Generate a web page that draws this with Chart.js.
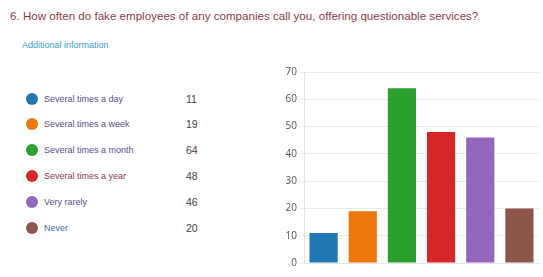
<!DOCTYPE html>
<html>
<head>
<meta charset="utf-8">
<script src="https://cdn.jsdelivr.net/npm/chart.js@4"></script>
<style>
  html, body { margin: 0; padding: 0; background: #fff; }
  body { width: 543px; height: 277px; position: relative; overflow: hidden; font-family: "Liberation Sans", Arial, sans-serif; }
  #title { position: absolute; left: 10px; top: 9px; font-size: 11.6px; color: #8a3b4b; white-space: nowrap; }
  #info { position: absolute; left: 22px; top: 40px; font-size: 9px; color: #3c9dc4; }
  .row { position: absolute; left: 26px; height: 14px; font-size: 9px; white-space: nowrap; }
  .dot { position: absolute; left: 0; top: 1px; width: 12px; height: 12px; border-radius: 50%; }
  .lab { position: absolute; left: 18px; top: 0; line-height: 14px; }
  .val { position: absolute; left: 160px; top: 0; line-height: 14px; color: #444; font-size: 10.5px; }
  #box { position: absolute; left: 270px; top: 63px; width: 273px; height: 209px; }
</style>
</head>
<body>
<div id="title">6. How often do fake employees of any companies call you, offering questionable services?</div>
<div id="info">Additional information</div>
<div id="legend"></div>
<div id="box"><canvas id="c"></canvas></div>
<script>
// answer options and counts as shown in the survey summary
const labels = ['Several times a day', 'Several times a week', 'Several times a month', 'Several times a year', 'Very rarely', 'Never'];
const counts = [11, 19, 64, 48, 46, 20];
const colours = ['#1f77b4', '#ee770c', '#2ca02c', '#d62728', '#9467bd', '#8c564b'];
const labelColours = ['#5b4c8c', '#5b4c8c', '#5b4c8c', '#8a3b4b', '#5b4c8c', '#4a6a9c'];
const yTicks = [0, 10, 20, 30, 40, 50, 60, 70];

// left-hand legend with counts
const legend = document.getElementById('legend');
labels.forEach((l, i) => {
  const row = document.createElement('div');
  row.className = 'row';
  row.style.top = (91.5 + i * 25.8) + 'px';
  row.innerHTML = `<span class="dot" style="background:${colours[i]}"></span>` +
    `<span class="lab" style="color:${labelColours[i]}">${l}</span>` +
    `<span class="val">${counts[i]}</span>`;
  legend.appendChild(row);
});

new Chart(document.getElementById('c'), {
  type: 'bar',
  data: {
    labels,
    datasets: [{ data: counts, backgroundColor: colours, borderWidth: 0 }],
  },
  options: {
    responsive: true,
    maintainAspectRatio: false,
    animation: false,
    layout: { padding: { top: 6, right: 4, bottom: 0, left: 0 } },
    plugins: { legend: { display: false }, tooltip: { enabled: false } },
    datasets: { bar: { categoryPercentage: 0.8, barPercentage: 0.9 } },
    scales: {
      x: {
        ticks: { display: false },
        grid: { display: false },
        border: { color: '#e4e4e4' },
      },
      y: {
        min: 0,
        max: 70,
        afterBuildTicks: (s) => { s.ticks = yTicks.map(v => ({ value: v })); },
        afterFit: (s) => { s.width = 34; },
        ticks: { color: '#555', font: { family: 'Open Sans', size: 10 }, padding: 3 },
        grid: { color: '#ebebeb', tickLength: 4 },
        border: { color: '#e4e4e4' },
      },
    },
  },
});
</script>
</body>
</html>
